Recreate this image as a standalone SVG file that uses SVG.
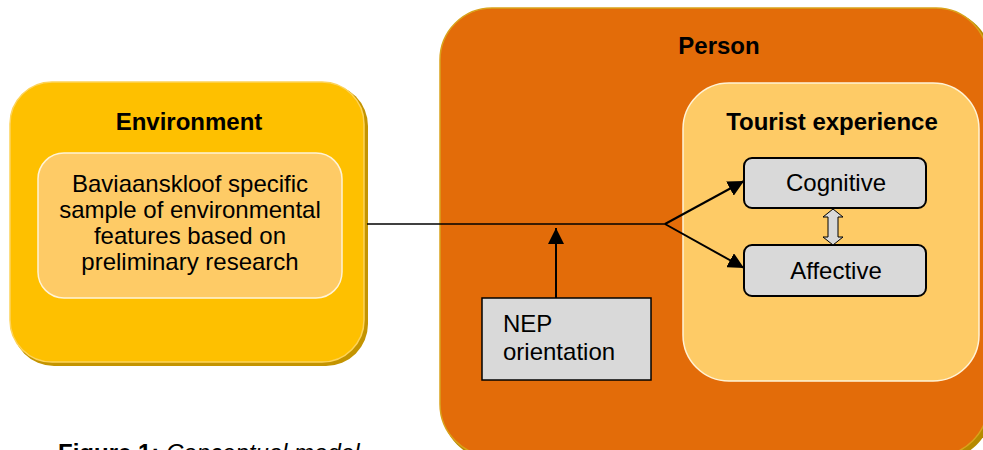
<svg xmlns="http://www.w3.org/2000/svg" width="983" height="450" viewBox="0 0 983 450">
<defs>
<style>
.t{font-family:"Liberation Sans",Arial,sans-serif;fill:#000}
.b{font-weight:bold;font-size:24px}
.n{font-size:24px}
.inner{fill:#FECB66;stroke:#FFF3D6;stroke-width:1.5}
.grey{fill:#D9D9D9;stroke:#000;stroke-width:2}
.ln{stroke:#000;fill:none}
</style>
<marker id="ahb" viewBox="0 0 10 10" refX="10" refY="5" markerWidth="16" markerHeight="16" markerUnits="userSpaceOnUse" orient="auto">
<path d="M0,0 L10,5 L0,10 z" fill="#000"/>
</marker>
</defs>
<rect width="983" height="450" fill="#fff"/>
<g id="environment">
<rect x="12" y="84" width="356" height="282" rx="42" fill="#C49400"/>
<rect x="10" y="82" width="354" height="280" rx="42" fill="#FEC000" stroke="#FDD35A" stroke-width="1.5"/>
<text class="t b" x="189" y="130" text-anchor="middle">Environment</text>
<rect class="inner" x="38" y="153" width="304" height="145" rx="26"/>
<text class="t n" text-anchor="middle" x="190"><tspan x="190" y="192">Baviaanskloof specific</tspan><tspan x="190" y="218">sample of environmental</tspan><tspan x="190" y="244">features based on</tspan><tspan x="190" y="270">preliminary research</tspan></text>
</g>
<g id="person">
<rect x="442" y="10" width="550" height="450" rx="52" fill="#B58A00"/>
<rect x="440" y="8" width="548" height="448" rx="52" fill="#E36C09" stroke="#D9A21B" stroke-width="1.5"/>
<text class="t b" x="719" y="54" text-anchor="middle">Person</text>
</g>
<g id="tourist-experience">
<rect class="inner" x="683" y="83" width="296" height="298" rx="46"/>
<text class="t b" x="832" y="130" text-anchor="middle">Tourist experience</text>
</g>
<g id="cognitive">
<rect class="grey" x="744" y="158" width="182" height="50" rx="8"/>
<text class="t n" x="836" y="191" text-anchor="middle">Cognitive</text>
</g>
<g id="affective">
<rect class="grey" x="744" y="245" width="182" height="51" rx="8"/>
<text class="t n" x="836" y="279" text-anchor="middle">Affective</text>
</g>
<g id="nep">
<rect x="482" y="298" width="169" height="82" fill="#D9D9D9" stroke="#000" stroke-width="1.5"/>
<text class="t n"><tspan x="503" y="332">NEP</tspan><tspan x="503" y="360">orientation</tspan></text>
</g>
<g id="connectors">
<path class="ln" d="M367,224 H665" stroke-width="1.5"/>
<path class="ln" d="M665,224 L744,181" stroke-width="2" marker-end="url(#ahb)"/>
<path class="ln" d="M665,224 L744,268" stroke-width="2" marker-end="url(#ahb)"/>
<path class="ln" d="M556,298 V228" stroke-width="2" marker-end="url(#ahb)"/>
<path d="M833,209 L843,217 H838 V237 H843 L833,245 L823,237 H828 V217 H823 Z" fill="#D9D9D9" stroke="#000" stroke-width="1"/>
</g>
<text class="t" font-size="24" x="58" y="461"><tspan font-weight="bold">Figure 1:</tspan><tspan font-style="italic"> Conceptual model</tspan></text>
</svg>
